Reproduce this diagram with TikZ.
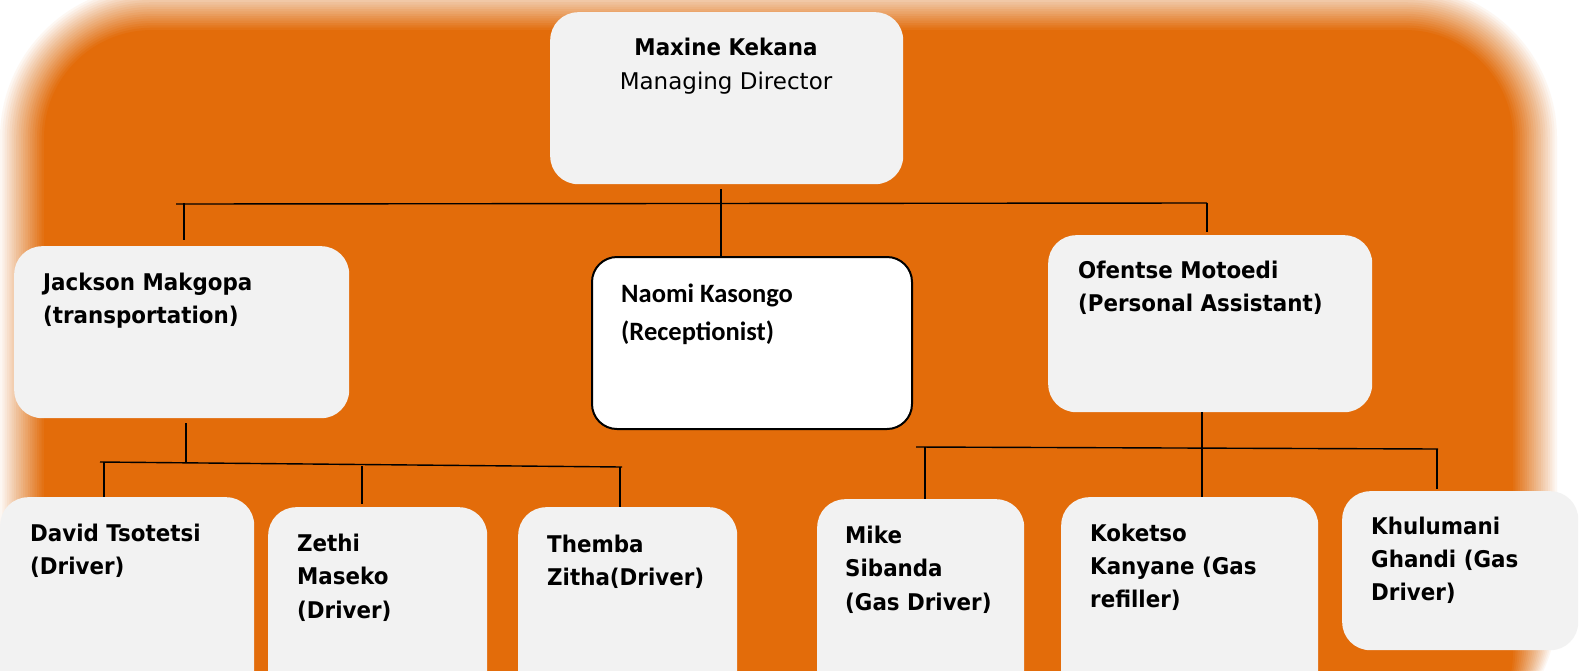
\documentclass[tikz,border=0pt]{standalone}
\usepackage{fontspec}
\setmainfont{DejaVu Sans}[BoldFeatures={FakeStretch=0.93}]
\newfontfamily\calfont{Carlito}
\definecolor{bgorange}{HTML}{E36C0A}
\definecolor{boxgray}{HTML}{F2F2F2}
\tikzset{
  orgbox/.style={draw=none, fill=boxgray, rounded corners=28pt, inner sep=0pt, anchor=north west},
  nbox/.style={fill=white, draw=black, line width=2pt, rounded corners=25pt, inner sep=0pt, anchor=north west},
  lbl/.style={inner sep=0pt, anchor=base west, align=left, font=\fontsize{23}{33}\selectfont\bfseries},
  conn/.style={draw=black, line width=1.4pt},
}
\begin{document}
\begin{tikzpicture}[x=1pt,y=-1pt]
\useasboundingbox (0,0) rectangle (1581,670);
\begin{scope}
\clip (0,0) rectangle (1581,670);
\fill[white] (0,0) rectangle (1581,670);
\foreach \j in {1,...,20} {
  \pgfmathsetmacro\ins{-22+(\j-1)*44/19}
  \pgfmathsetmacro\op{1/(21-\j)}
  \pgfmathsetmacro\rad{130-\ins}
  \fill[bgorange, fill opacity=\op, rounded corners=\rad pt] (22+\ins, 8+\ins) rectangle (1535-\ins, 760);
}

% boxes
\node[orgbox, minimum width=353pt, minimum height=172pt] (maxine) at (550,12) {};
\node[orgbox, minimum width=335pt, minimum height=172pt] (jackson) at (14,246) {};
\node[nbox, minimum width=320pt, minimum height=172pt] (naomi) at (591,256) {};
\node[orgbox, minimum width=324pt, minimum height=177pt] (ofentse) at (1048,235) {};
\node[orgbox, minimum width=254pt, minimum height=220pt] (david) at (0,497) {};
\node[orgbox, minimum width=219pt, minimum height=220pt] (zethi) at (268,507) {};
\node[orgbox, minimum width=219pt, minimum height=220pt] (themba) at (518,507) {};
\node[orgbox, minimum width=207pt, minimum height=220pt] (mike) at (817,499) {};
\node[orgbox, minimum width=257pt, minimum height=220pt] (koketso) at (1061,497) {};
\node[orgbox, minimum width=236pt, minimum height=159pt] (khulumani) at (1342,491) {};

% texts (anchored at the baseline of the last line)
\node[lbl, anchor=base, align=center, font=\fontsize{23}{34}\selectfont] (maxineT) at (726,89) {\textbf{Maxine Kekana}\\Managing Director};
\node[lbl] (jacksonT) at (43,323) {Jackson Makgopa\\(transportation)};
\node[lbl, font=\fontsize{26.5}{38}\selectfont\calfont\bfseries] (naomiT) at (621,340) {Naomi Kasongo\\(Receptionist)};
\node[lbl] (ofentseT) at (1078,311) {Ofentse Motoedi\\(Personal Assistant)};
\node[lbl] (davidT) at (30,574) {David Tsotetsi\\(Driver)};
\node[lbl, font=\fontsize{23}{33.5}\selectfont\bfseries] (zethiT) at (297,618) {Zethi\\Maseko\\(Driver)};
\node[lbl] (thembaT) at (547,585) {Themba\\Zitha(Driver)};
\node[lbl, font=\fontsize{23}{33.5}\selectfont\bfseries] (mikeT) at (845,610) {Mike\\Sibanda\\(Gas Driver)};
\node[lbl] (koketsoT) at (1090,607) {Koketso\\Kanyane (Gas\\refiller)};
\node[lbl] (khulumaniT) at (1371,600) {Khulumani\\Ghandi (Gas\\Driver)};

% top level connectors
\coordinate (tbL) at (176,204);
\coordinate (tbR) at (1207,203);
\coordinate (tbM) at (721,203);
\coordinate (ldT) at (184,203);
\draw[conn] (tbL) -- (tbR);
\draw[conn, shorten <=5pt] (maxine.south -| tbM) -- (naomi.north -| tbM);
\draw[conn, shorten >=6pt] (ldT) -- (jackson.north -| ldT);
\draw[conn, shorten >=3pt] (tbR) -- (ofentse.north -| tbR);

% Jackson's team
\coordinate (jbL) at (100,462);
\coordinate (jbR) at (622,467);
\coordinate (jbM) at (186,463);
\coordinate (jd1) at (104,462);
\coordinate (jd2) at (362,466);
\coordinate (jd3) at (620,467);
\draw[conn] (jbL) -- (jbR);
\draw[conn, shorten <=5pt] (jackson.south -| jbM) -- (jbM);
\draw[conn] (jd1) -- (david.north -| jd1);
\draw[conn, shorten >=3pt] (jd2) -- (zethi.north -| jd2);
\draw[conn] (jd3) -- (themba.north -| jd3);

% Ofentse's team
\coordinate (obL) at (916,447);
\coordinate (obR) at (1438,449);
\coordinate (obM) at (1202,448);
\coordinate (od1) at (925,447);
\coordinate (od2) at (1437,449);
\draw[conn] (obL) -- (obR);
\draw[conn] (ofentse.south -| obM) -- (koketso.north -| obM);
\draw[conn] (od1) -- (mike.north -| od1);
\draw[conn, shorten >=2pt] (od2) -- (khulumani.north -| od2);
\end{scope}
\end{tikzpicture}
\end{document}
